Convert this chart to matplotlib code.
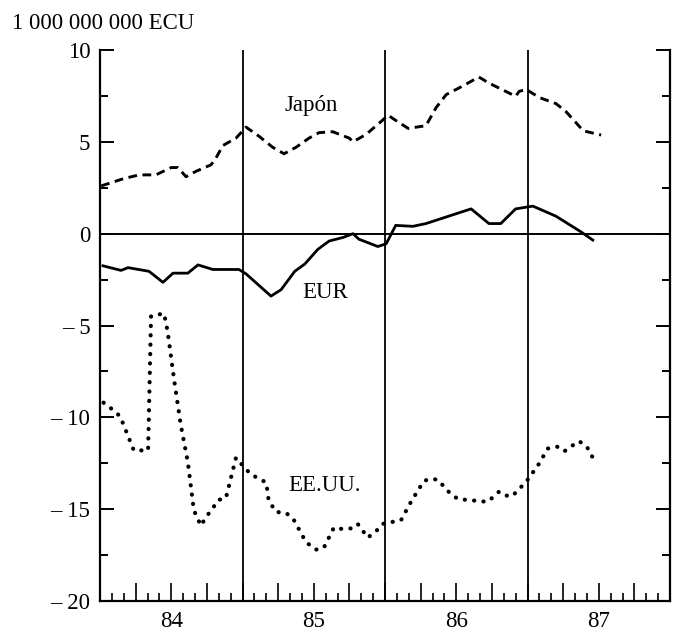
import matplotlib.pyplot as plt
from matplotlib.ticker import FixedLocator, FixedFormatter, MultipleLocator

plt.rcParams['font.family'] = ['Liberation Serif', 'DejaVu Serif']

# meses contados desde enero de 1984
jp_mes = [0.1, 2.0, 3.3, 4.7, 6.0, 6.55, 7.25, 8.1, 9.35, 9.75,
          10.35, 11.45, 12.3, 13.4, 14.55, 15.5, 16.5, 17.6, 18.45, 19.6,
          21.0, 21.3, 22.4, 23.8, 24.25, 24.9, 25.95, 27.45, 28.3, 29.15,
          30.55, 31.9, 32.75, 35.0, 35.3, 35.9, 37.0, 38.4, 39.25, 40.7,
          42.2]
jp_val = [2.6, 3.0, 3.2, 3.2, 3.6, 3.6, 3.1, 3.4, 3.75, 4.1,
          4.8, 5.2, 5.8, 5.3, 4.7, 4.35, 4.7, 5.2, 5.5, 5.55,
          5.2, 5.0, 5.4, 6.18, 6.45, 6.17, 5.73, 5.88, 6.86, 7.57,
          8.04, 8.53, 8.2, 7.48, 7.75, 7.85, 7.41, 7.08, 6.64, 5.6,
          5.37]

eur_mes = [0.25, 1.77, 2.36, 4.13, 5.3, 6.15, 7.4, 8.25, 9.5, 11.7,
           12.3, 14.4, 15.25, 16.4, 17.25, 18.35, 19.3, 20.5, 21.3, 21.8,
           23.4, 24.1, 24.9, 26.35, 27.45, 31.25, 32.75, 33.75, 35.0, 36.45,
           38.4, 40.5, 41.5]
eur_val = [-1.75, -2.0, -1.85, -2.05, -2.65, -2.15, -2.15, -1.7, -1.95, -1.95,
           -2.19, -3.4, -3.05, -2.05, -1.65, -0.85, -0.4, -0.2, 0.0, -0.3,
           -0.7, -0.55, 0.45, 0.4, 0.55, 1.35, 0.55, 0.55, 1.35, 1.5,
           0.95, 0.1, -0.35]

usa_mes = [0.3, 1.1, 1.7, 2.35, 2.85, 4.05, 4.3, 4.45, 5.4, 5.7,
           6.25, 6.8, 7.4, 7.9, 8.5, 8.9, 9.5, 9.95, 10.6, 11.45,
           12.05, 12.7, 14.0, 14.2, 14.8, 15.65, 16.25, 17.35, 18.2, 18.85,
           19.7, 20.3, 21.1, 21.7, 22.55, 23.25, 23.8, 25.35, 26.1, 26.85,
           27.3, 27.9, 28.45, 29.5, 30.15, 31.0, 32.6, 33.2, 33.6, 34.1,
           34.7, 35.3, 35.9, 37.0, 37.7, 38.5, 39.1, 39.75, 40.35, 41.0,
           41.4, 41.95]
usa_val = [-9.2, -9.6, -9.95, -11.0, -11.8, -11.8, -4.5, -4.45, -4.35, -5.35,
           -8.0, -10.4, -12.45, -15.05, -15.9, -15.45, -14.95, -14.5, -14.4, -12.2,
           -12.65, -13.1, -13.55, -14.5, -15.15, -15.2, -15.5, -16.8, -17.2, -17.1,
           -16.0, -16.07, -16.05, -15.8, -16.55, -16.2, -15.8, -15.6, -14.7, -13.9,
           -13.45, -13.35, -13.4, -14.15, -14.45, -14.5, -14.6, -14.3, -14.05, -14.25,
           -14.3, -13.9, -13.5, -12.5, -11.7, -11.6, -11.85, -11.55, -11.3, -11.6,
           -12.1, -12.5]

anios = ['84', '85', '86', '87']

fs = 16.5

fig = plt.figure(figsize=(6.79, 6.37), dpi=100)
ax = fig.add_axes([100 / 679, 36 / 637, 570 / 679, 551 / 637])

ax.plot(jp_mes, jp_val, color='black', lw=2.1, linestyle=(0, (3.0, 1.9)))
ax.plot(eur_mes, eur_val, color='black', lw=2.0, solid_joinstyle='round')
ax.plot(usa_mes, usa_val, color='black', lw=3.0, linestyle=(0, (0.05, 2.2)),
        dash_capstyle='round')

# separacion entre anos y linea del cero
for m in (12, 24, 36):
    ax.axvline(m, color='black', lw=1.3)
ax.axhline(0, color='black', lw=1.4)

ax.set_xlim(0, 48)
ax.set_ylim(-20, 10)

ax.spines['top'].set_visible(False)
for s in ('left', 'right', 'bottom'):
    ax.spines[s].set_linewidth(1.6)

# eje x: trimestres largos, meses cortos
trim = list(range(3, 48, 3))
ax.xaxis.set_major_locator(FixedLocator(trim))
etiq = []
for t in trim:
    if t % 12 == 6:
        etiq.append(anios[t // 12])
    else:
        etiq.append('')
ax.xaxis.set_major_formatter(FixedFormatter(etiq))
ax.xaxis.set_minor_locator(MultipleLocator(1))
ax.tick_params(axis='x', which='major', direction='in', length=13, width=1.2,
               pad=7, labelsize=fs)
ax.tick_params(axis='x', which='minor', direction='in', length=6, width=1.2)

# eje y
ax.yaxis.set_minor_locator(MultipleLocator(2.5))
ax.set_yticks([-20, -15, -10, -5, 0, 5, 10])
ax.set_yticklabels(['\u2013 20', '\u2013 15', '\u2013 10', '\u2013 5', '0', '5', '10'])
ax.tick_params(axis='y', which='both', direction='in', left=True, right=True,
               labelsize=fs, pad=7, width=1.4)
ax.tick_params(axis='y', which='major', length=10)
ax.tick_params(axis='y', which='minor', length=6)

ax.text(17.8, 7.0, 'Jap\u00f3n', fontsize=fs, ha='center', va='center')
ax.text(19.0, -3.2, 'EUR', fontsize=fs, ha='center', va='center')
ax.text(18.9, -13.7, 'EE.UU.', fontsize=fs, ha='center', va='center')

fig.text(12 / 679, 1 - 29 / 637, '1 000 000 000 ECU', fontsize=fs,
         ha='left', va='baseline')

fig.savefig('out.png', dpi=100)
